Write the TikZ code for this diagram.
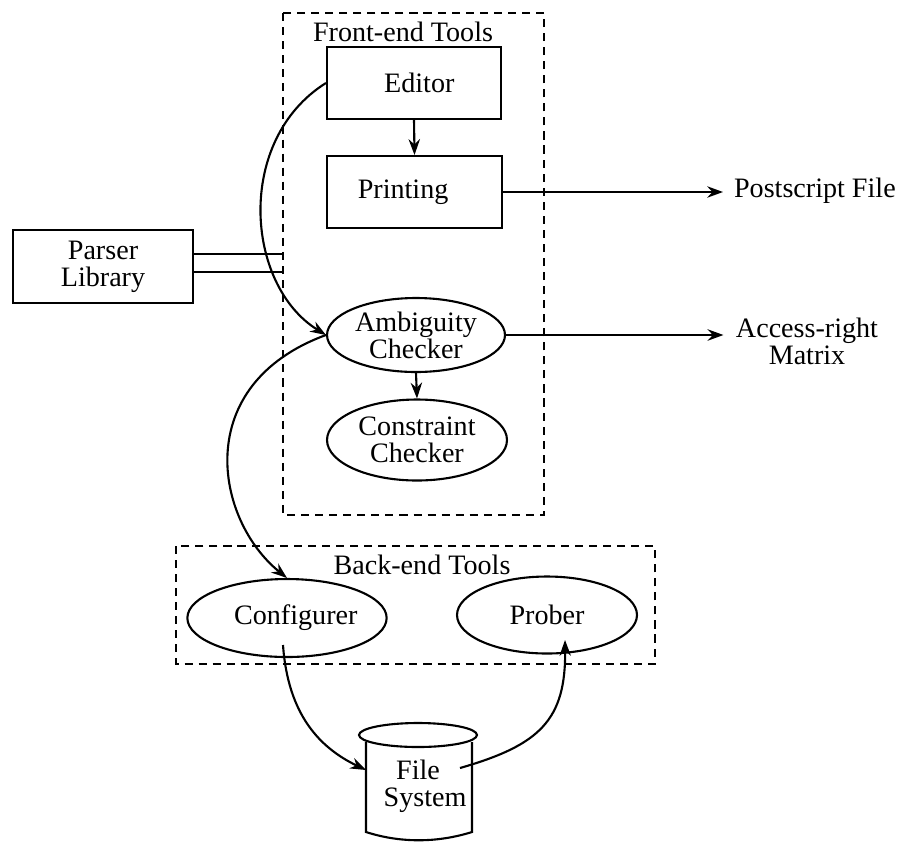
\documentclass[tikz,border=0pt]{standalone}
\usepackage{fontspec}
\setmainfont{Liberation Serif}
\usetikzlibrary{arrows.meta,shapes.geometric}
\begin{document}
\begin{tikzpicture}[x=0.02cm,y=-0.02cm,
  line width=1.2pt,
  every node/.style={font=\fontsize{16pt}{15.5pt}\selectfont, align=center},
  boxnode/.style={draw, rectangle, inner sep=0pt},
  ellnode/.style={draw, ellipse, inner sep=0pt},
  txt/.style={inner sep=0pt},
  grp/.style={dash pattern=on 4.6pt off 3.4pt, line width=1.3pt},
  arr/.style={-{Stealth[length=9pt,width=6.5pt,inset=3pt]}}
]
\useasboundingbox (0,0) rectangle (901,842);

% group frames
\draw[grp] (283,13) rectangle (544,515);
\draw[grp] (176,546) rectangle (655,664);
\node[txt] (fetitle) at (403,32) {Front-end Tools};
\node[txt] (betitle) at (422,565) {Back-end Tools};

% nodes
\node[boxnode, minimum width=3.48cm, minimum height=1.44cm] (editor) at (414,83) {\hspace*{6pt}Editor};
\node[boxnode, minimum width=3.5cm, minimum height=1.44cm] (printing) at (414.5,192) {Printing\hspace*{13pt}};
\node[boxnode, minimum width=3.6cm, minimum height=1.46cm] (parser) at (103,266.5) {Parser\\Library};
\node[ellnode, minimum width=3.56cm, minimum height=1.48cm] (ambig) at (416,335) {Ambiguity\\Checker};
\node[ellnode, minimum width=3.6cm, minimum height=1.62cm] (constr) at (417,440) {Constraint\\Checker};
\node[ellnode, minimum width=3.6cm, minimum height=1.56cm] (conf) at (287,618) {\hspace*{10pt}Configurer};
\node[ellnode, minimum width=3.6cm, minimum height=1.54cm] (prober) at (547,615) {Prober};

\node[anchor=west, inner xsep=0.2cm, inner ysep=0pt] (ps) at (723,191) {Postscript File};
\node[inner xsep=0.23cm, inner ysep=0pt] (acc) at (807,341) {Access-right\\Matrix};

% file system cylinder
\draw (418,735) ellipse [x radius=1.18cm, y radius=0.24cm];
\draw (366,742) -- (366,832) .. controls (400,843) and (437,843) .. (472,832) -- (472,742);
\node[txt] (fs) at (418,786) {File\\\hspace*{8pt}System};

% connector end points
\coordinate (pl1) at (282,254);
\coordinate (pl2) at (282,272);
\coordinate (cfgOut) at (283,645);
\coordinate (fsL) at (366,770);
\coordinate (fsR) at (460,768);
\coordinate (prIn) at (565,640);

% connectors
\draw[arr] (editor.south) -- (printing.north);
\draw[arr] (ambig.south) -- (constr.north);
\draw[arr] (printing.east) -- (printing.east -| ps.west);
\draw[arr] (ambig.east) -- (ambig.east -| acc.west);
\draw (pl1 -| parser.east) -- (pl1);
\draw (pl2 -| parser.east) -- (pl2);
\draw[arr] (editor.west) .. controls (235,140) and (245,285) .. (ambig.west);
\draw[arr] (ambig.west) .. controls (190,385) and (215,520) .. (conf.north);
\draw[arr] (cfgOut) .. controls (288,715) and (320,748) .. (fsL);
\draw[arr] (fsR) .. controls (540,745) and (566,720) .. (prIn);
\end{tikzpicture}
\end{document}
